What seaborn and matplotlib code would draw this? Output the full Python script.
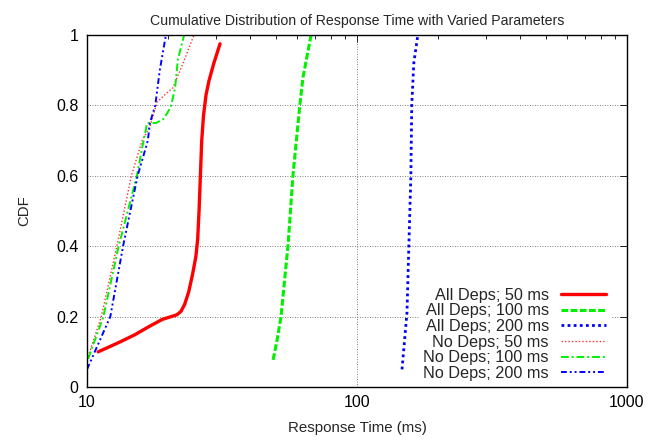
import numpy as np
import pandas as pd
import seaborn as sns
import matplotlib
matplotlib.use("Agg")
import matplotlib.pyplot as plt
from matplotlib.ticker import LogLocator, NullFormatter, FixedLocator

# response time (ms) / CDF pairs
all50_t = [11.0, 13.0, 15.0, 17.0, 19.0, 20.5, 21.5, 22.3, 23.0, 23.8, 24.6, 25.3,
           25.7, 26.0, 26.3, 26.6, 27.0, 27.6, 28.3, 29.5, 31.1]
all50_c = [0.10, 0.125, 0.148, 0.172, 0.192, 0.200, 0.205, 0.215, 0.235, 0.27, 0.32, 0.37,
           0.42, 0.50, 0.60, 0.70, 0.77, 0.83, 0.87, 0.92, 0.975]

all100_t = [48.9, 50.5, 52.3, 55.5, 57.9, 61.4, 63.1, 67.6]
all100_c = [0.077, 0.13, 0.20, 0.40, 0.60, 0.80, 0.88, 1.00]

all200_t = [146.8, 153.1, 155.6, 158.3, 159.5, 162.3, 168.0]
all200_c = [0.05, 0.21, 0.40, 0.60, 0.80, 0.92, 1.00]

no50_t = [10.0, 11.3, 12.9, 14.6, 16.0, 17.1, 18.2, 19.4, 20.8, 22.7, 24.9]
no50_c = [0.077, 0.20, 0.40, 0.60, 0.70, 0.74, 0.81, 0.83, 0.85, 0.92, 1.00]

no100_t = [10.1, 11.5, 13.1, 15.3, 16.2, 16.7, 18.0, 19.1, 19.9, 20.5, 21.2, 21.7, 22.9]
no100_c = [0.08, 0.20, 0.40, 0.60, 0.70, 0.75, 0.75, 0.76, 0.78, 0.80, 0.85, 0.93, 1.00]

no200_t = [10.0, 12.2, 13.6, 15.4, 16.8, 17.1, 17.9, 18.6, 19.6]
no200_c = [0.05, 0.20, 0.40, 0.60, 0.70, 0.75, 0.80, 0.90, 1.00]

sns.set_style("white")
plt.rcParams["font.family"] = ["Liberation Sans", "DejaVu Sans"]

fig = plt.figure(figsize=(6.61, 4.40), dpi=100)
ax = fig.add_axes([87 / 661, 53 / 440, 540 / 661, 352 / 440])

series = [
    ("All Deps; 50 ms", all50_t, all50_c, "#ff0000", "-", 2.4),
    ("All Deps; 100 ms", all100_t, all100_c, "#00f000", (0, (2.2, 0.8)), 2.2),
    ("All Deps; 200 ms", all200_t, all200_c, "#0000ff", (0, (1, 1.2)), 2.0),
    ("No Deps; 50 ms", no50_t, no50_c, "#ff3030", (0, (1, 1.5)), 1.0),
    ("No Deps; 100 ms", no100_t, no100_c, "#00f000", (0, (4, 1.5, 1, 1.5)), 1.4),
    ("No Deps; 200 ms", no200_t, no200_c, "#0000ff", (0, (3, 1.5, 1, 1.5, 1, 1.5)), 1.4),
]

for label, t, c, col, ls, lw in series:
    df = pd.DataFrame({"t": t, "c": c})
    sns.lineplot(data=df, x="t", y="c", ax=ax, color=col, linestyle=ls,
                 linewidth=lw, label=label, estimator=None, sort=False)

ax.set_xscale("log")
ax.set_xlim(10, 1000)
ax.set_ylim(0, 1)
ax.xaxis.set_major_locator(FixedLocator([10, 100, 1000]))
ax.set_xticklabels(["10", "100", "1000"])
ax.xaxis.set_minor_locator(LogLocator(base=10, subs=np.arange(2, 10)))
ax.xaxis.set_minor_formatter(NullFormatter())
ax.set_yticks([0, 0.2, 0.4, 0.6, 0.8, 1])
ax.set_yticklabels(["0", "0.2", "0.4", "0.6", "0.8", "1"])

ax.tick_params(axis="both", which="both", direction="in", top=True, right=True,
               labelsize=11.5, colors="black")
ax.tick_params(axis="both", which="major", length=5, width=0.6, pad=6)
ax.tick_params(axis="x", which="minor", length=3, width=0.6)

for y in [0.2, 0.4, 0.6, 0.8]:
    ax.axhline(y, color="#555555", linestyle=(0, (1, 2)), linewidth=0.6, zorder=0)
ax.axvline(100, color="#555555", linestyle=(0, (1, 2)), linewidth=0.6, zorder=0)

for sp in ax.spines.values():
    sp.set_color("black")
    sp.set_linewidth(1.0)

ax.set_title("Cumulative Distribution of Response Time with Varied Parameters",
             fontsize=10.2, pad=7)
ax.set_xlabel("Response Time (ms)", fontsize=10.8, labelpad=8)
ax.set_ylabel("CDF", fontsize=10.8, labelpad=18)

leg = ax.legend(loc="lower right", bbox_to_anchor=(0.968, 0.008), markerfirst=False,
                frameon=True, fontsize=11.7, labelspacing=0.04, handlelength=2.8,
                handletextpad=0.75, borderpad=0.2, borderaxespad=0)
leg.get_frame().set_edgecolor("white")
leg.get_frame().set_facecolor("white")
leg.get_frame().set_alpha(1)

fig.savefig("out.png", dpi=100)
